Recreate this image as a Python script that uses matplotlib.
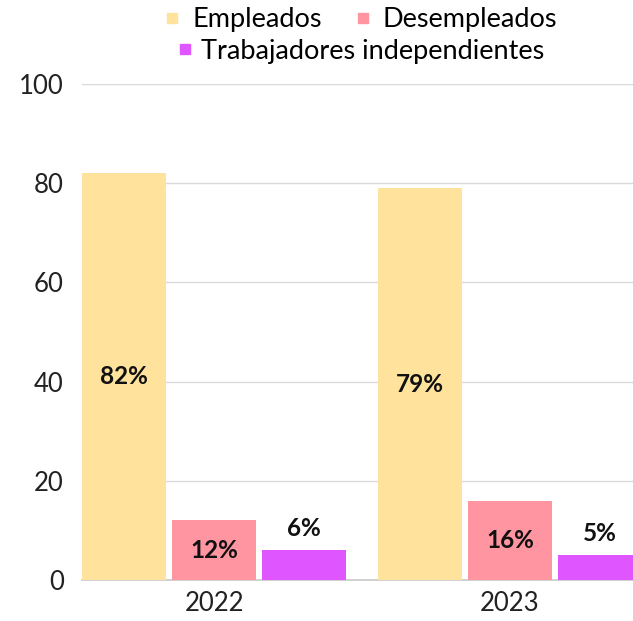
import numpy as np
import matplotlib
matplotlib.use("Agg")
import matplotlib.pyplot as plt
from matplotlib.lines import Line2D

plt.rcParams["font.family"] = ["Lato", "DejaVu Sans"]

# ── data ──
years = ["2022", "2023"]
series = ["Empleados", "Desempleados", "Trabajadores independientes"]
empleados = [82, 79]
desempleados = [12, 16]
independientes = [6, 5]
colors = ["#FFE29C", "#FF95A1", "#DF55FF"]

values = [empleados, desempleados, independientes]

fig = plt.figure(figsize=(6.33, 6.21), dpi=100)
ax = fig.add_axes([82 / 633, 41 / 621, 560 / 633, 496 / 621])

x = np.arange(len(years))
width = 0.284
step = 0.304

for i, (vals, col) in enumerate(zip(values, colors)):
    pos = x + (i - 1) * step
    bars = ax.bar(pos, vals, width=width, color=col, zorder=3)
    for b, v in zip(bars, vals):
        cx = b.get_x() + b.get_width() / 2
        if v >= 10:
            ax.text(cx, v / 2, f"{v}%", ha="center", va="center",
                    fontsize=17.5, fontweight="bold", color="#111111", zorder=4)
        else:
            ax.text(cx, v + 2, f"{v}%", ha="center", va="bottom",
                    fontsize=17.5, fontweight="bold", color="#111111", zorder=4)

ax.set_xlim(-0.446, 1.446)
ax.set_ylim(0, 100)
ax.set_yticks(range(0, 101, 20))
ax.set_xticks(x)
ax.set_xticklabels(years)
ax.tick_params(axis="both", length=0, labelsize=18.5, colors="#222222")
ax.tick_params(axis="x", pad=8)
ax.tick_params(axis="y", pad=13)
ax.yaxis.grid(True, color="#DADADA", linewidth=1, zorder=0)
for side in ("top", "right", "left"):
    ax.spines[side].set_visible(False)
ax.spines["bottom"].set_color("#C8C8C8")
ax.spines["bottom"].set_linewidth(1.2)

# ── legend: two rows, centred over the plot ──
def handle(col):
    return Line2D([], [], marker="s", linestyle="none", markersize=7,
                  markerfacecolor=col, markeredgecolor=col)

fig.legend([handle(colors[0]), handle(colors[1])], series[:2],
           loc="center", bbox_to_anchor=(358 / 633, 1 - 20 / 621),
           ncol=2, frameon=False, fontsize=19.5, handletextpad=0.25,
           columnspacing=1.0, handlelength=1.0, borderaxespad=0)
fig.legend([handle(colors[2])], series[2:],
           loc="center", bbox_to_anchor=(358 / 633, 1 - 51 / 621),
           frameon=False, fontsize=19.5, handletextpad=0.1,
           handlelength=1.0, borderaxespad=0)

fig.savefig("out.png", dpi=100)
